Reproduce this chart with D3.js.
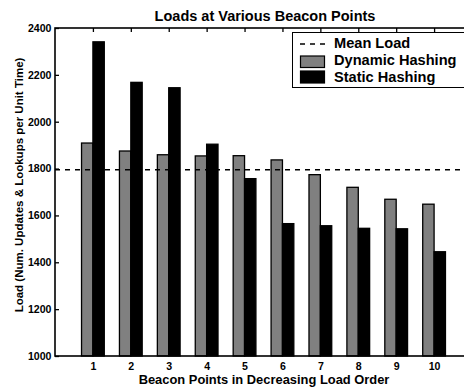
<!DOCTYPE html>
<html>
<head>
<meta charset="utf-8">
<script src="https://cdn.jsdelivr.net/npm/d3@7"></script>
<style>
  body { margin: 0; background: #fff; }
  svg { display: block; font-family: "Liberation Sans", Arial, Helvetica, sans-serif; font-weight: bold; }
</style>
</head>
<body>
<div id="chart"></div>
<script>
// data
const beacons = [1, 2, 3, 4, 5, 6, 7, 8, 9, 10];
const dynamicLoad = [1909, 1875, 1859, 1854, 1855, 1837, 1774, 1720, 1669, 1648];
const staticLoad = [2341, 2168, 2145, 1904, 1757, 1565, 1556, 1545, 1543, 1445];
const meanLoad = 1795;
const yTicks = [1000, 1200, 1400, 1600, 1800, 2000, 2200, 2400];
const legendLabels = ["Mean Load", "Dynamic Hashing", "Static Hashing"];

// chart size
const w = 464;
const h = 391;
const padLeft = 55, padRight = 472, padTop = 28, padBot = 356;

const svg = d3.select("#chart").append("svg")
  .attr("width", w)
  .attr("height", h);

const x = d3.scaleLinear().domain([0, 11]).range([padLeft, padRight]);
const y = d3.scaleLinear().domain([1000, 2400]).range([padBot, padTop]);
const barW = 0.3;

// bars
const rows = beacons.map((b, i) => ({ b, dyn: dynamicLoad[i], stat: staticLoad[i] }));

svg.selectAll("rect.dyn")
  .data(rows)
  .enter()
  .append("rect")
  .attr("class", "dyn")
  .attr("x", d => x(d.b - barW))
  .attr("width", x(barW) - x(0))
  .attr("y", d => y(d.dyn))
  .attr("height", d => y(1000) - y(d.dyn))
  .attr("fill", "#808080")
  .attr("stroke", "#000")
  .attr("stroke-width", 1.3);

svg.selectAll("rect.stat")
  .data(rows)
  .enter()
  .append("rect")
  .attr("class", "stat")
  .attr("x", d => x(d.b))
  .attr("width", x(barW) - x(0))
  .attr("y", d => y(d.stat))
  .attr("height", d => y(1000) - y(d.stat))
  .attr("fill", "#000")
  .attr("stroke", "#000")
  .attr("stroke-width", 1.3);

// mean line
svg.append("line")
  .attr("x1", x(0)).attr("x2", x(11))
  .attr("y1", y(meanLoad)).attr("y2", y(meanLoad))
  .attr("stroke", "#000")
  .attr("stroke-width", 1.6)
  .attr("stroke-dasharray", "5,5");

// axes (ticks pointing inward)
const xAxis = d3.axisBottom(x).tickValues(beacons).tickSizeInner(-4).tickSizeOuter(0).tickPadding(6.5)
  .tickFormat(d3.format("d"));
const gx = svg.append("g")
  .attr("transform", `translate(0, ${padBot})`)
  .call(xAxis);
const xTop = d3.axisTop(x).tickValues(beacons).tickSizeInner(-4).tickSizeOuter(0).tickFormat("");
const gxt = svg.append("g")
  .attr("transform", `translate(0, ${padTop})`)
  .call(xTop);
const yAxis = d3.axisLeft(y).tickValues(yTicks).tickSizeInner(-4).tickSizeOuter(0).tickPadding(3.5)
  .tickFormat(d3.format("d"));
const gy = svg.append("g")
  .attr("transform", `translate(${padLeft}, 0)`)
  .call(yAxis);

[gx, gxt, gy].forEach(g => {
  g.select(".domain").remove();
  g.selectAll("line").attr("stroke", "#000").attr("stroke-width", 1.3);
  g.selectAll("text")
    .attr("fill", "#000")
    .style("font-size", "10.6px")
    .style("font-weight", "bold")
    .style("font-family", "Liberation Sans, Arial, sans-serif");
});

// plot box
svg.append("rect")
  .attr("x", padLeft).attr("y", padTop)
  .attr("width", padRight - padLeft).attr("height", padBot - padTop)
  .attr("fill", "none")
  .attr("stroke", "#000")
  .attr("stroke-width", 1.6);

// title and labels
svg.append("text")
  .text("Loads at Various Beacon Points")
  .attr("x", 265)
  .attr("y", 20.5)
  .attr("text-anchor", "middle")
  .style("font-size", "14.5px");

svg.append("text")
  .text("Beacon Points in Decreasing Load Order")
  .attr("x", 264)
  .attr("y", 383.5)
  .attr("text-anchor", "middle")
  .style("font-size", "12.9px");

svg.append("text")
  .text("Load (Num. Updates & Lookups per Unit Time)")
  .attr("transform", "translate(22.5, 185) rotate(-90)")
  .attr("text-anchor", "middle")
  .style("font-size", "11.5px");

// legend
const lg = svg.append("g");
lg.append("rect")
  .attr("x", 292.5).attr("y", 32.5)
  .attr("width", 180).attr("height", 55)
  .attr("fill", "#fff")
  .attr("stroke", "#000")
  .attr("stroke-width", 1);
lg.append("line")
  .attr("x1", 300).attr("x2", 325)
  .attr("y1", 44).attr("y2", 44)
  .attr("stroke", "#000")
  .attr("stroke-width", 1.6)
  .attr("stroke-dasharray", "5,5");
lg.append("rect")
  .attr("x", 300.5).attr("y", 56)
  .attr("width", 24).attr("height", 11.5)
  .attr("fill", "#808080")
  .attr("stroke", "#000")
  .attr("stroke-width", 1.2);
lg.append("rect")
  .attr("x", 300.5).attr("y", 71)
  .attr("width", 24).attr("height", 12)
  .attr("fill", "#000")
  .attr("stroke", "#000")
  .attr("stroke-width", 1.2);
lg.selectAll("text.leg")
  .data(legendLabels)
  .enter()
  .append("text")
  .attr("class", "leg")
  .text(d => d)
  .attr("x", 334)
  .attr("y", (d, i) => 47.5 + i * 17)
  .style("font-size", "14.6px");
</script>
</body>
</html>
